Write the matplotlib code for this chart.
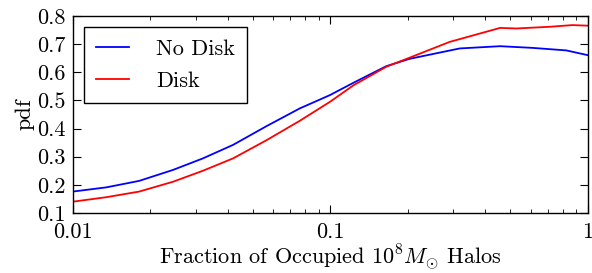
import numpy as np
import matplotlib
matplotlib.use('Agg')
import matplotlib.pyplot as plt

plt.rcParams['font.family'] = 'serif'
plt.rcParams['font.serif'] = ['cmr10']
plt.rcParams['mathtext.fontset'] = 'cm'
plt.rcParams['axes.unicode_minus'] = False
plt.rcParams['axes.formatter.use_mathtext'] = True

# fraction of occupied halos
frac_nodisk = [0.01, 0.0135, 0.0181, 0.0245, 0.032, 0.0419, 0.0566, 0.0762, 0.0996,
               0.123, 0.165, 0.203, 0.318, 0.456, 0.61, 0.825, 1.0]
pdf_nodisk = [0.176, 0.191, 0.214, 0.253, 0.294, 0.342, 0.409, 0.472, 0.519,
              0.563, 0.622, 0.648, 0.685, 0.693, 0.687, 0.678, 0.661]

frac_disk = [0.01, 0.0135, 0.0181, 0.0245, 0.032, 0.0419, 0.0566, 0.0762, 0.0996,
             0.123, 0.165, 0.203, 0.29, 0.456, 0.528, 0.71, 0.87, 1.0]
pdf_disk = [0.14, 0.156, 0.176, 0.211, 0.25, 0.294, 0.359, 0.428, 0.495,
            0.554, 0.62, 0.652, 0.708, 0.758, 0.756, 0.762, 0.768, 0.766]

fig = plt.figure(figsize=(5.92, 2.73), dpi=100)
ax = fig.add_axes([0.123, 0.22, 0.87, 0.721])

ax.plot(frac_nodisk, pdf_nodisk, color='blue', lw=1.3, label='No Disk')
ax.plot(frac_disk, pdf_disk, color='red', lw=1.3, label='Disk')

ax.set_xscale('log')
ax.set_xlim(0.01, 1)
ax.set_ylim(0.1, 0.8)
ax.set_xticks([0.01, 0.1, 1])
ax.set_xticklabels(['0.01', '0.1', '1'])
ax.set_yticks(np.arange(0.1, 0.81, 0.1))
ax.set_yticklabels(['%.1f' % v for v in np.arange(0.1, 0.81, 0.1)])
ax.tick_params(which='both', direction='in', top=True, right=True, labelsize=16)
ax.tick_params(axis='y', pad=5)
ax.tick_params(axis='x', pad=7)
ax.tick_params(which='major', length=6, width=0.8)
ax.tick_params(which='minor', length=3, width=0.6)
for s in ax.spines.values():
    s.set_linewidth(1.0)

ax.set_xlabel(r'Fraction of Occupied $10^8 M_{\odot}$ Halos', fontsize=16, labelpad=0)
ax.set_ylabel('pdf', fontsize=16, labelpad=2)

leg = ax.legend(loc='upper left', fontsize=16, fancybox=False, edgecolor='black',
                framealpha=1, handlelength=1.5, handletextpad=1.2, borderpad=0.55,
                labelspacing=0.55, bbox_to_anchor=(0.0, 1.0))
leg.get_frame().set_linewidth(1.0)

fig.savefig('out.png', dpi=100)
